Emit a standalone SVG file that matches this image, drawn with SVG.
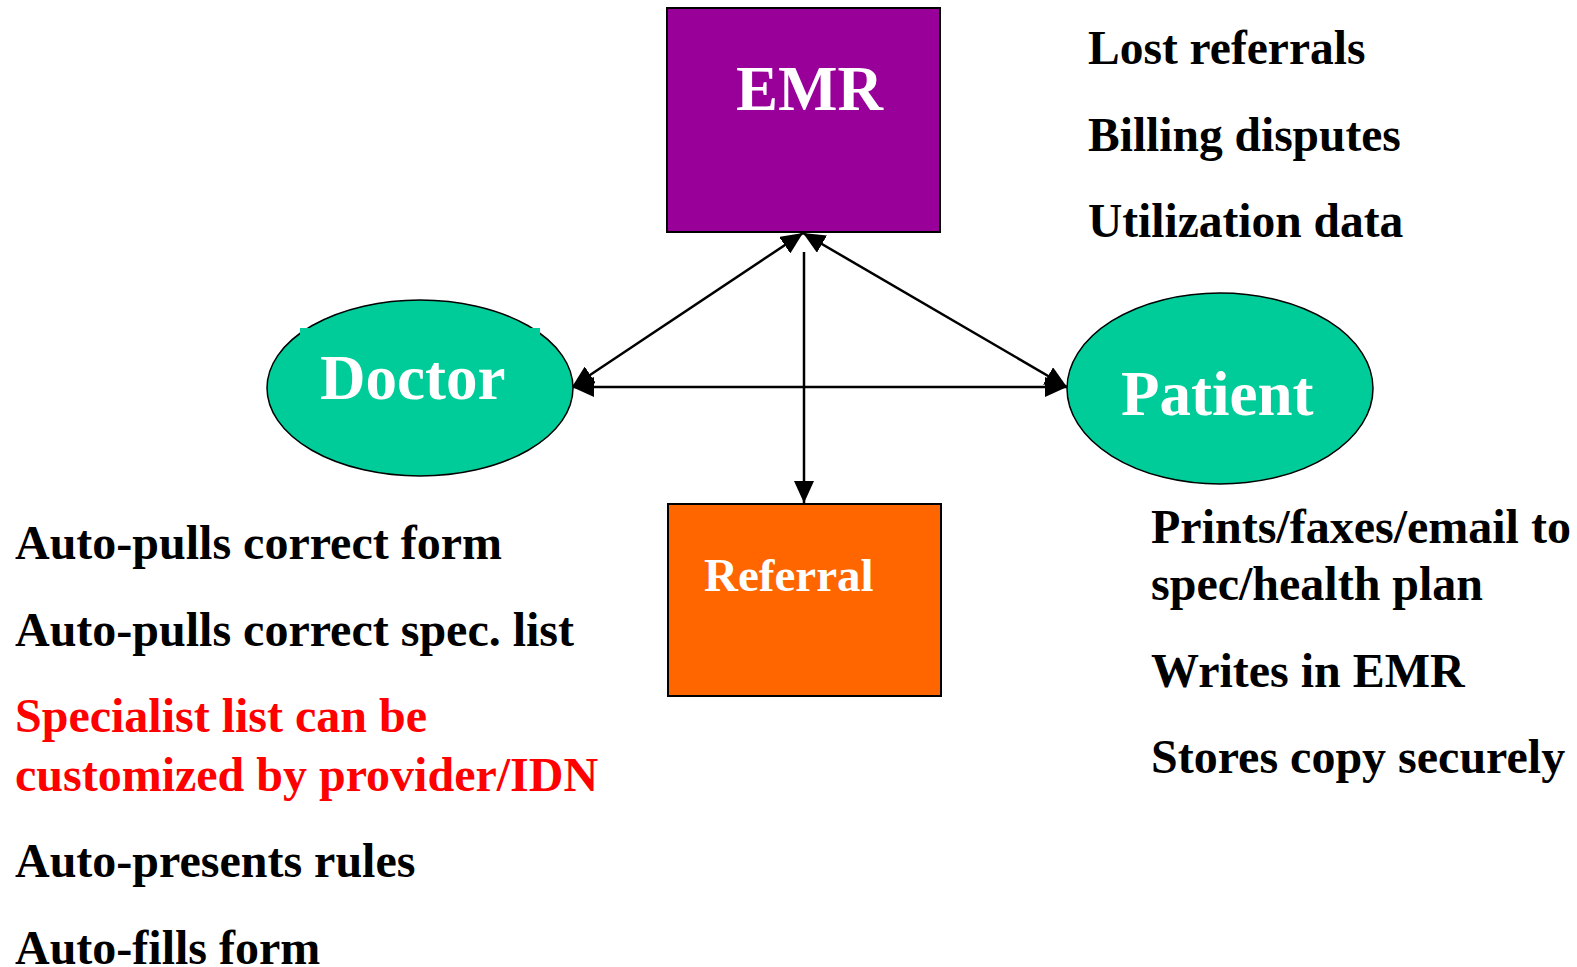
<svg xmlns="http://www.w3.org/2000/svg" width="1577" height="967" viewBox="0 0 1577 967">
<style>
.lbl{font-family:"Liberation Serif","Times New Roman",serif;font-weight:bold;}
.node-t{fill:#FFFFFF;}
.side{font-size:48px;fill:#000000;}
.top{font-size:47.5px;}
.red{fill:#FF0000;}
.conn{stroke:#000;stroke-width:2.5;fill:none;}
</style>
<defs>
<marker id="ah" viewBox="0 0 22 20" markerWidth="22" markerHeight="20" refX="22" refY="10" orient="auto-start-reverse" markerUnits="userSpaceOnUse">
<path d="M0,0 L22,10 L0,20 Z" fill="#000"/>
</marker>
</defs>
<rect width="1577" height="967" fill="#FFFFFF"/>
<g id="connectors">
<line class="conn" x1="572" y1="387" x2="1067" y2="387" marker-start="url(#ah)" marker-end="url(#ah)"/>
<line class="conn" x1="572" y1="387" x2="803" y2="233" marker-start="url(#ah)" marker-end="url(#ah)"/>
<line class="conn" x1="803" y1="233" x2="1067" y2="387" marker-start="url(#ah)" marker-end="url(#ah)"/>
<line class="conn" x1="804" y1="252" x2="804" y2="503" marker-end="url(#ah)"/>
</g>
<g id="emr">
<rect x="667" y="8" width="273" height="224" fill="#990099" stroke="#000" stroke-width="2"/>
<text class="lbl node-t" x="736" y="110" font-size="63">EMR</text>
</g>
<g id="doctor">
<ellipse cx="420" cy="388" rx="153" ry="88" fill="#00CC99" stroke="#000" stroke-width="1.5"/>
<rect x="300" y="328" width="240" height="60" fill="#00CC99"/>
<text class="lbl node-t" x="320" y="399" font-size="63">Doctor</text>
</g>
<g id="patient">
<ellipse cx="1220" cy="388.5" rx="153" ry="95.5" fill="#00CC99" stroke="#000" stroke-width="1.5"/>
<text class="lbl node-t" x="1121" y="415" font-size="63">Patient</text>
</g>
<g id="referral">
<rect x="668" y="504" width="273" height="192" fill="#FF6600" stroke="#000" stroke-width="2"/>
<text class="lbl node-t" x="704" y="591" font-size="47">Referral</text>
</g>
<g id="emr-notes">
<text class="lbl side top" x="1088" y="64">Lost referrals</text>
<text class="lbl side top" x="1088" y="151">Billing disputes</text>
<text class="lbl side top" x="1088" y="237">Utilization data</text>
</g>
<g id="doctor-notes">
<text class="lbl side" x="15" y="559">Auto-pulls correct form</text>
<text class="lbl side" x="15" y="646">Auto-pulls correct spec. list</text>
<text class="lbl side red" x="15" y="732">Specialist list can be</text>
<text class="lbl side red" x="15" y="791">customized by provider/IDN</text>
<text class="lbl side" x="15" y="877">Auto-presents rules</text>
<text class="lbl side" x="15" y="964">Auto-fills form</text>
</g>
<g id="patient-notes">
<text class="lbl side" x="1151" y="543">Prints/faxes/email to</text>
<text class="lbl side" x="1151" y="600">spec/health plan</text>
<text class="lbl side" x="1151" y="687">Writes in EMR</text>
<text class="lbl side" x="1151" y="773">Stores copy securely</text>
</g>
</svg>
